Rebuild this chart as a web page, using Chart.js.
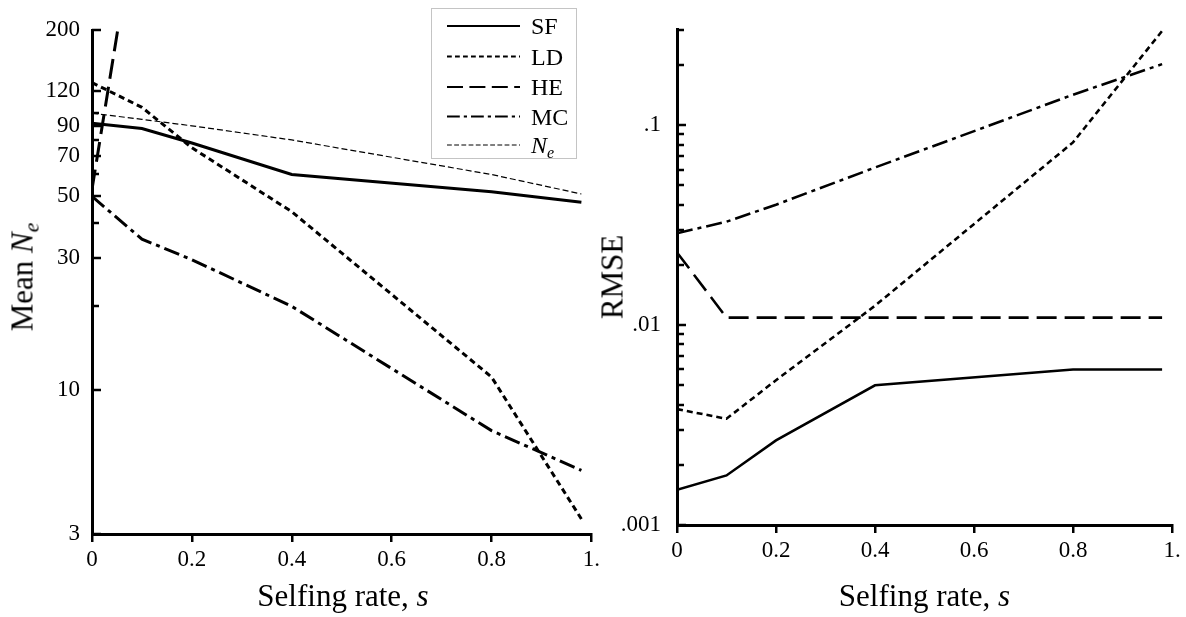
<!DOCTYPE html>
<html>
<head>
<meta charset="utf-8">
<script src="https://cdn.jsdelivr.net/npm/chart.js@4.4.1/dist/chart.umd.min.js"></script>
<style>
  body { margin: 0; background: #fff; width: 1186px; height: 617px; position: relative; overflow: hidden; font-family: "Liberation Serif", "Times New Roman", serif; }
  canvas { position: absolute; top: 0; }
  #neChart { left: 0; }
  #rmseChart { left: 600px; }
  .title { position: absolute; font-size: 31px; line-height: 1; color: #000; white-space: nowrap; }
  .xtitle { transform: translateX(-50%); }
  .ytitle { transform: translate(-50%, -50%) rotate(-90deg); }
  .sub { position: relative; top: 0.28em; font-size: 0.7em; }
  #legend { position: absolute; left: 431px; top: 8px; }
</style>
</head>
<body>
<canvas id="neChart" width="604" height="617"></canvas>
<canvas id="rmseChart" width="586" height="617"></canvas>

<div class="title ytitle" style="left:21.5px; top:277px;">Mean <i>N</i><i class="sub">e</i></div>
<div class="title xtitle" style="left:343px; top:580px;">Selfing rate, <i>s</i></div>
<div class="title ytitle" style="left:611.5px; top:277px;">RMSE</div>
<div class="title xtitle" style="left:924.5px; top:580px;">Selfing rate, <i>s</i></div>
<svg id="legend" width="147" height="152"></svg>

<script>
// selfing rates (x) shared by both panels
const SELFING = [0, 0.1, 0.2, 0.4, 0.8, 0.98];

// left panel: mean Ne
const MEAN_NE_SF = [92, 88, 78, 60, 52, 47.6];
const MEAN_NE_LD = [129, 105, 75, 44, 11.1, 3.4];
const MEAN_NE_HE = [53, 700, null, null, null, null];
const MEAN_NE_MC = [50, 35, 29.5, 20, 7.1, 5.1];
const TRUE_NE = [100, 95, 90, 80, 60, 51];

// right panel: RMSE
const RMSE_SF = [0.0015, 0.00177, 0.00265, 0.005, 0.006, 0.006];
const RMSE_LD = [0.0038, 0.0034, 0.0053, 0.0125, 0.082, 0.296];
const RMSE_HE = [0.0231, 0.0109, 0.0109, 0.0109, 0.0109, 0.0109];
const RMSE_MC = [0.0288, 0.0329, 0.040, 0.0614, 0.142, 0.202];

// ticks
const X_TICKS = [0, 0.2, 0.4, 0.6, 0.8, 1];
const X_TICK_LABELS = ['0', '0.2', '0.4', '0.6', '0.8', '1.'];
const NE_TICKS = [3, 10, 20, 30, 40, 50, 60, 70, 80, 90, 100, 120, 200];
const NE_TICK_LABELS = ['3', '10', '', '30', '', '50', '', '70', '', '90', '', '120', '200'];
const RMSE_TICKS = [0.001, 0.002, 0.003, 0.004, 0.005, 0.006, 0.007, 0.008, 0.009,
                    0.01, 0.02, 0.03, 0.04, 0.05, 0.06, 0.07, 0.08, 0.09,
                    0.1, 0.2, 0.3];
const RMSE_TICK_LABELS = ['.001', '', '', '', '', '', '', '', '',
                          '.01', '', '', '', '', '', '', '', '',
                          '.1', '', ''];

const LEGEND_NAMES = ['SF', 'LD', 'HE', 'MC', 'Ne'];

const FONT = 'Liberation Serif';
const styles = {
    SF: { dash: [], width: 3 },
    LD: { dash: [6, 4], width: 3 },
    HE: { dash: [20, 8], width: 3 },
    MC: { dash: [16, 5, 4, 5], width: 3 },
    Ne: { dash: [6, 3], width: 1.2 }
};

function toPoints(values) {
    return SELFING.map((s, i) => ({ x: s, y: values[i] }));
}

function makeDataset(name, values, widthScale) {
    return {
        label: name,
        data: toPoints(values),
        borderColor: '#000',
        borderWidth: styles[name].width * widthScale,
        borderDash: styles[name].dash,
        pointRadius: 0,
        fill: false,
        tension: 0,
        spanGaps: false
    };
}

// y ticks point inward (to the right of the axis)
const inwardTicks = {
    id: 'inwardTicks',
    afterDraw(chart) {
        const scale = chart.scales.y;
        const ctx = chart.ctx;
        const left = chart.chartArea.left;
        ctx.save();
        ctx.strokeStyle = '#000';
        ctx.lineWidth = 2.5;
        scale.ticks.forEach(t => {
            const py = Math.round(scale.getPixelForValue(t.value));
            const len = t.label ? 9 : 7;
            ctx.beginPath();
            ctx.moveTo(left, py);
            ctx.lineTo(left + len, py);
            ctx.stroke();
        });
        ctx.restore();
    }
};

function createPanel(id, datasets, yMin, yMax, yTicks, yLabels, yPad, layout) {
    const ctx = document.getElementById(id).getContext('2d');
    return new Chart(ctx, {
        type: 'line',
        data: { datasets: datasets },
        options: {
            responsive: false,
            animation: false,
            devicePixelRatio: 1,
            layout: { padding: layout.padding },
            plugins: { legend: { display: false }, tooltip: { enabled: false } },
            scales: {
                x: {
                    type: 'linear',
                    min: 0,
                    max: 1,
                    afterBuildTicks: s => { s.ticks = X_TICKS.map(v => ({ value: v })); },
                    afterFit: s => { s.height = layout.xHeight; },
                    ticks: {
                        autoSkip: false,
                        maxRotation: 0,
                        padding: 4,
                        color: '#000',
                        font: { family: FONT, size: 23 },
                        callback: v => X_TICK_LABELS[X_TICKS.indexOf(v)]
                    },
                    grid: { drawOnChartArea: false, drawTicks: true, tickLength: 8, color: '#000', lineWidth: 2.5 },
                    border: { display: true, color: '#000', width: 3 }
                },
                y: {
                    type: 'logarithmic',
                    min: yMin,
                    max: yMax,
                    afterBuildTicks: s => { s.ticks = yTicks.map(v => ({ value: v })); },
                    afterFit: s => { s.width = layout.yWidth; },
                    ticks: {
                        autoSkip: false,
                        padding: yPad,
                        color: '#000',
                        font: { family: FONT, size: 23 },
                        callback: v => yLabels[yTicks.indexOf(v)]
                    },
                    grid: { drawOnChartArea: false, drawTicks: false },
                    border: { display: true, color: '#000', width: 3 }
                }
            }
        },
        plugins: [inwardTicks]
    });
}

createPanel('neChart', [
    makeDataset('SF', MEAN_NE_SF, 1),
    makeDataset('LD', MEAN_NE_LD, 1),
    makeDataset('HE', MEAN_NE_HE, 1),
    makeDataset('MC', MEAN_NE_MC, 1),
    makeDataset('Ne', TRUE_NE, 1)
], 3, 200, NE_TICKS, NE_TICK_LABELS, 12,
   { padding: { top: 30, right: 10, left: 0, bottom: 0 }, yWidth: 92, xHeight: 83 });

createPanel('rmseChart', [
    makeDataset('SF', RMSE_SF, 0.85),
    makeDataset('LD', RMSE_LD, 0.85),
    makeDataset('HE', RMSE_HE, 0.85),
    makeDataset('MC', RMSE_MC, 0.85)
], 0.001, 0.3, RMSE_TICKS, RMSE_TICK_LABELS, 16,
   { padding: { top: 27, right: 14, left: 0, bottom: 0 }, yWidth: 77, xHeight: 92 });

// legend box (inside the left panel)
const svgNS = 'http://www.w3.org/2000/svg';
const legend = document.getElementById('legend');
const box = document.createElementNS(svgNS, 'rect');
box.setAttribute('x', 0.5); box.setAttribute('y', 0.5);
box.setAttribute('width', 145); box.setAttribute('height', 150);
box.setAttribute('fill', 'none'); box.setAttribute('stroke', '#888');
box.setAttribute('stroke-dasharray', '1,1');
legend.appendChild(box);

const rowY = [18, 48.5, 79, 108.5, 137];
LEGEND_NAMES.forEach((name, i) => {
    const st = styles[name];
    const line = document.createElementNS(svgNS, 'line');
    line.setAttribute('x1', 16); line.setAttribute('x2', 89);
    line.setAttribute('y1', rowY[i]); line.setAttribute('y2', rowY[i]);
    line.setAttribute('stroke', '#000');
    line.setAttribute('stroke-width', name === 'Ne' ? 1 : 2);
    if (st.dash.length) line.setAttribute('stroke-dasharray', st.dash.map(d => d * 0.8).join(','));
    legend.appendChild(line);

    const text = document.createElementNS(svgNS, 'text');
    text.setAttribute('x', 100);
    text.setAttribute('y', rowY[i] + 8);
    text.setAttribute('font-family', FONT);
    text.setAttribute('font-size', 24);
    if (name === 'Ne') {
        text.innerHTML = '<tspan font-style="italic">N</tspan><tspan font-style="italic" font-size="16" dy="5">e</tspan>';
    } else {
        text.textContent = name;
    }
    legend.appendChild(text);
});
</script>
</body>
</html>
